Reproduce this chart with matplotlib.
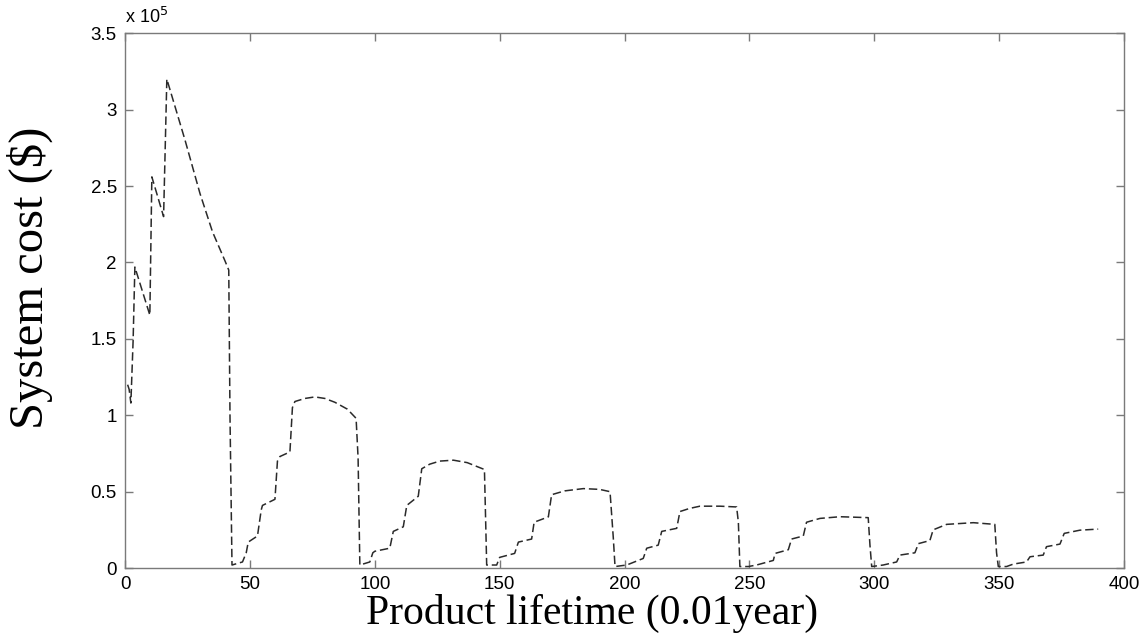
import matplotlib.pyplot as plt
from matplotlib.ticker import FixedLocator, FuncFormatter

# system cost over product lifetime, cost in units of 1e5 $
# one pair of lists per maintenance cycle
life_c0 = [1.0, 1.6, 2.3, 3.2, 3.9, 9.9, 10.7, 15.4, 16.7, 24.0, 30.0, 35.0, 40.0, 41.5, 42.0, 42.8]
cost_c0 = [1.20, 1.17, 1.08, 1.49, 1.97, 1.655, 2.56, 2.30, 3.20, 2.80, 2.45, 2.20, 2.01, 1.95, 0.99, 0.02]

life_c1 = [47.0, 48.5, 49.3, 53.0, 54.5, 55.0, 60.0, 61.0, 62.0, 66.0, 67.0, 68.0, 72.0, 76.0, 80.0, 84.0, 89.0, 92.5, 93.3, 94.0]
cost_c1 = [0.04, 0.10, 0.17, 0.21, 0.38, 0.41, 0.45, 0.70, 0.73, 0.76, 1.05, 1.09, 1.11, 1.12, 1.11, 1.085, 1.04, 0.98, 0.72, 0.02]

life_c2 = [98.0, 99.2, 100.0, 106.0, 107.4, 111.4, 112.8, 117.4, 118.8, 122.0, 126.0, 131.5, 137.0, 143.9, 144.4, 144.8]
cost_c2 = [0.04, 0.10, 0.11, 0.13, 0.24, 0.27, 0.41, 0.47, 0.65, 0.68, 0.70, 0.706, 0.69, 0.645, 0.30, 0.02]

life_c3 = [148.8, 150.0, 156.0, 157.5, 162.8, 163.8, 169.5, 170.8, 176.0, 183.5, 190.0, 194.2, 195.5, 196.2]
cost_c3 = [0.02, 0.07, 0.096, 0.17, 0.19, 0.30, 0.335, 0.48, 0.505, 0.52, 0.515, 0.50, 0.20, 0.01]

life_c4 = [200.9, 207.5, 208.9, 213.5, 214.9, 220.9, 222.2, 226.0, 230.2, 238.2, 244.9, 245.6, 246.2]
cost_c4 = [0.02, 0.063, 0.13, 0.15, 0.24, 0.26, 0.37, 0.39, 0.405, 0.405, 0.40, 0.30, 0.01]

life_c5 = [249.6, 252.9, 259.6, 260.3, 265.6, 266.9, 271.6, 272.9, 278.3, 286.3, 297.6, 298.3, 299.0]
cost_c5 = [0.01, 0.02, 0.05, 0.096, 0.12, 0.19, 0.21, 0.30, 0.325, 0.336, 0.33, 0.15, 0.01]

life_c6 = [303.6, 309.0, 310.3, 316.3, 317.7, 322.3, 323.6, 329.0, 339.7, 348.3, 349.0, 349.7]
cost_c6 = [0.02, 0.04, 0.085, 0.10, 0.16, 0.18, 0.25, 0.286, 0.297, 0.286, 0.10, 0.01]

life_c7 = [353.0, 355.7, 361.0, 362.4, 367.7, 369.0, 374.4, 376.1, 382.4, 389.7]
cost_c7 = [0.01, 0.026, 0.04, 0.074, 0.085, 0.14, 0.157, 0.227, 0.248, 0.255]

life = life_c0 + life_c1 + life_c2 + life_c3 + life_c4 + life_c5 + life_c6 + life_c7
cost = cost_c0 + cost_c1 + cost_c2 + cost_c3 + cost_c4 + cost_c5 + cost_c6 + cost_c7

xticks = [0, 50, 100, 150, 200, 250, 300, 350, 400]
yticks = [0, 0.5, 1, 1.5, 2, 2.5, 3, 3.5]

fig = plt.figure(figsize=(11.48, 6.39), dpi=100)
ax = fig.add_axes([0.109, 0.111, 0.870, 0.837])

ax.plot(life, cost, color="#2a2a2a", linewidth=1.1, linestyle=(0, (5.5, 2.5)))

ax.set_xlim(0, 400)
ax.set_ylim(0, 3.5)
ax.xaxis.set_major_locator(FixedLocator(xticks))
ax.yaxis.set_major_locator(FixedLocator(yticks))
ax.yaxis.set_major_formatter(FuncFormatter(lambda v, p: "%g" % v))

grey = "#7a7a7a"
for s in ax.spines.values():
    s.set_color(grey)
    s.set_linewidth(1.0)
ax.tick_params(direction="in", length=6, width=1, color=grey,
               top=True, right=True, labelsize=13.5, labelcolor="black", pad=6)
for lab in ax.get_xticklabels() + ax.get_yticklabels():
    lab.set_family("Liberation Sans")

ax.text(0.0, 1.012, r"x 10$^5$", transform=ax.transAxes, fontsize=13,
        family="Liberation Sans", ha="left", va="bottom")

ax.set_xlabel("Product lifetime (0.01year)", family="Liberation Serif", fontsize=30)
ax.set_ylabel("System cost ($)", family="Liberation Serif", fontsize=35)
ax.xaxis.set_label_coords(0.4675, -0.048)
ax.yaxis.set_label_coords(-0.072, 0.542)

fig.savefig("out.png", dpi=100, facecolor="white")
